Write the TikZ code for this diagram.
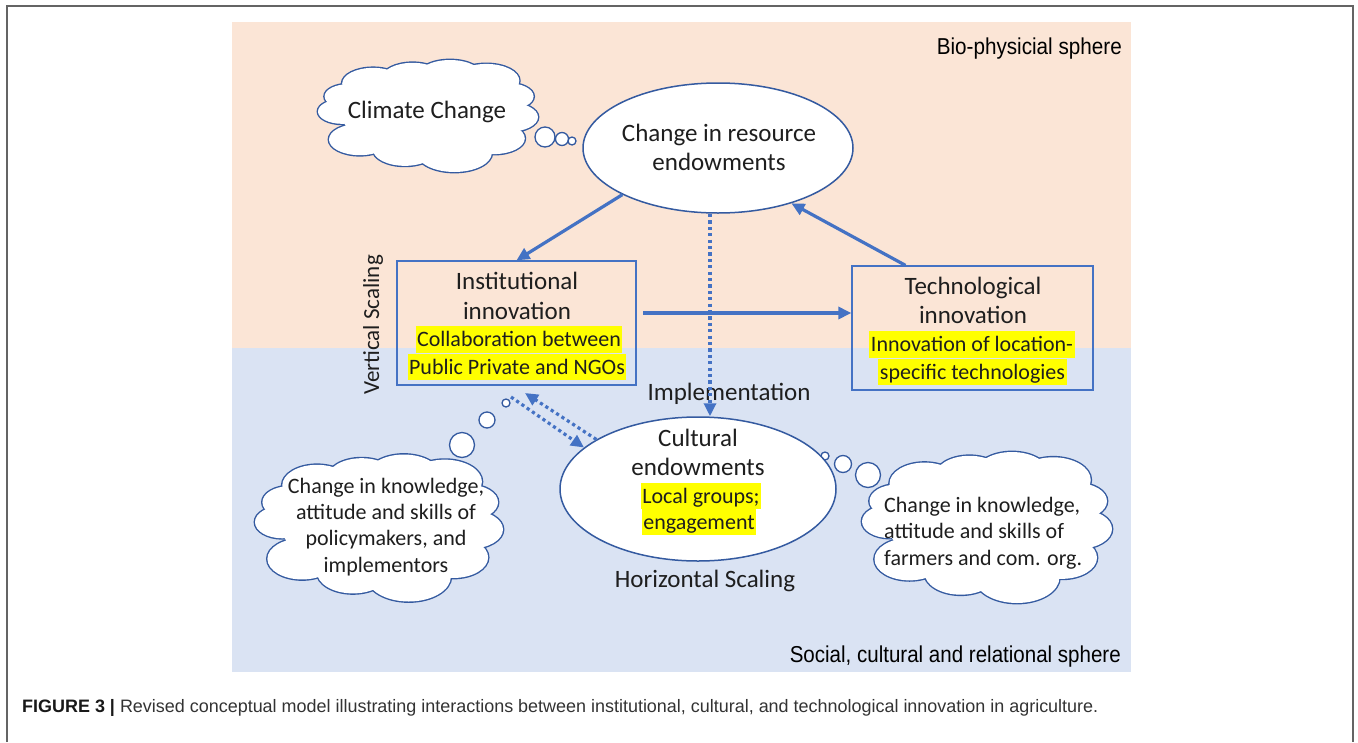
\documentclass[tikz,border=0pt]{standalone}
\usepackage{fontspec}
\setmainfont{Carlito}
\newfontfamily\arialf{Liberation Sans}
\usetikzlibrary{shapes.geometric,arrows.meta,calc}
\definecolor{peach}{RGB}{251,229,214}
\definecolor{lblue}{RGB}{218,227,243}
\definecolor{abl}{RGB}{68,114,196}
\definecolor{cbl}{RGB}{52,90,160}
\definecolor{hly}{RGB}{255,255,0}
\definecolor{txtc}{RGB}{30,30,30}
\definecolor{framec}{RGB}{100,100,100}
\tikzset{
  ttl/.style={font=\fontsize{25}{29}\selectfont, anchor=base, inner sep=0, text=txtc},
  hl/.style={font=\fontsize{22}{27}\selectfont, fill=hly, inner xsep=1.5pt, inner ysep=0pt, text height=20.5pt, text depth=6pt, anchor=base, text=txtc},
  ctx/.style={font=\fontsize{22}{26}\selectfont, anchor=base, inner sep=0, text=txtc},
  bub/.style={circle, draw=cbl, fill=white, line width=1.3pt, inner sep=0},
  ell/.style={ellipse, draw=cbl, fill=white, line width=1.5pt, inner sep=0},
  boxx/.style={rectangle, draw=abl, line width=1.3pt, inner sep=0},
  arr/.style={draw=abl, line width=3.2pt, -{Triangle[length=13pt,width=12pt]}},
  dots/.style={draw=abl, line width=3.2pt, dash pattern=on 3.2pt off 3.2pt, -{Triangle[length=13pt,width=12pt]}},
}
% puffs of a cloud, in units of its half width and half height (y up)
\newcommand{\puffs}{-0.72/0.35/0.22, -0.50/0.58/0.28, -0.14/0.67/0.28, 0.20/0.70/0.30, 0.53/0.63/0.30, 0.72/0.35/0.24, 0.74/-0.02/0.26, 0.60/-0.40/0.28, 0.24/-0.66/0.34, -0.21/-0.60/0.29, -0.62/-0.42/0.28, -0.78/0.08/0.22}
\newcommand{\officecloud}[4]{%
  \begin{scope}[shift={(#1,#2)}, x=#3pt, y=#4pt]
    \foreach \px/\py/\pr in \puffs {\draw[cbl, line width=2.8pt] (\px,\py) circle[radius=\pr];}
    \foreach \px/\py/\pr in \puffs {\fill[white] (\px,\py) circle[radius=\pr];}
    \fill[white] (0,0) ellipse[x radius=0.78, y radius=0.62];
  \end{scope}}
\begin{document}
\begin{tikzpicture}[x=1pt,y=-1pt]
\useasboundingbox (0,0) rectangle (1358,742);
% spheres
\fill[peach] (232,22) rectangle (1131,348);
\fill[lblue] (232,348) rectangle (1131,672);
\draw[framec, line width=1.3pt] (7,742) -- (7,6) -- (1353,6) -- (1353,742);
\node[anchor=base east, inner sep=0, font=\arialf\fontsize{23}{25}\selectfont] (bio) at (1122,54) {\resizebox{185pt}{\height}{Bio-physicial sphere}};
\node[anchor=base east, inner sep=0, font=\arialf\fontsize{23}{25}\selectfont] (soc) at (1121,662) {\resizebox{331pt}{\height}{Social, cultural and relational sphere}};
% climate cloud
\officecloud{428}{116}{110}{56}
\node[ttl] (cct) at (427,118) {Climate Change};
\node[bub, minimum size=20pt] (cb1) at (545,137) {};
\node[bub, minimum size=13pt] (cb2) at (562,139) {};
\node[bub, minimum size=8pt] (cb3) at (572,141) {};
% resource ellipse
\node[ell, minimum width=270pt, minimum height=130pt] (chg) at (718,148) {};
\node[ttl] (chgt1) at (719,141) {Change in resource};
\node[ttl] (chgt2) at (719,170) {endowments};
% institutional box
\node[boxx, minimum width=239pt, minimum height=124pt] (inst) at (516.5,323) {};
\node[ttl] (instt1) at (517,289) {Institutional};
\node[ttl] (instt2) at (517,319) {innovation};
\node[hl] (insth1) at (519,346.5) {Collaboration between};
\node[hl] (insth2) at (517,374) {Public Private and NGOs};
% technological box
\node[boxx, minimum width=241pt, minimum height=124pt] (tech) at (972.5,328) {};
\node[ttl] (techt1) at (973,294) {Technological};
\node[ttl] (techt2) at (973,323) {innovation};
\node[hl] (techh1) at (972,351.5) {Innovation of location-};
\node[hl] (techh2) at (972.5,379) {specific technologies};
% vertical scaling
\node[rotate=90, font=\fontsize{23}{26}\selectfont, inner sep=0, text=txtc] (vs) at (373,325) {Vertical Scaling};
% left cloud
\officecloud{379}{528}{124}{73.5}
\node[bub, minimum size=25pt] (lb1) at (462,445) {};
\node[bub, minimum size=16pt] (lb2) at (487,420) {};
\node[bub, minimum size=8pt] (lb3) at (506,403) {};
\node[ctx] (lct1) at (386,493) {Change in knowledge,};
\node[ctx] (lct2) at (386,519) {attitude and skills of};
\node[ctx] (lct3) at (386,545) {policymakers, and};
\node[ctx] (lct4) at (386,572) {implementors};
% right cloud
\officecloud{987}{527.5}{125}{75.5}
\node[bub, minimum size=25pt] (rb1) at (868,475) {};
\node[bub, minimum size=17pt] (rb2) at (843,464) {};
\node[bub, minimum size=8pt] (rb3) at (825,456) {};
\node[ctx, anchor=base west] (rct1) at (884,512) {Change in knowledge,};
\node[ctx, anchor=base west] (rct2) at (884,538) {attitude and skills of};
\node[ctx, anchor=base west] (rct3) at (884,565) {farmers and com. org.};
% cultural ellipse
\node[ell, minimum width=276pt, minimum height=144pt] (cult) at (698,489) {};
\node[ttl] (cultt1) at (698,446) {Cultural};
\node[ttl] (cultt2) at (698,475) {endowments};
\node[hl] (culth1) at (701,503) {Local groups;};
\node[hl] (culth2) at (699,529) {engagement};
\node[ttl] (impl) at (729,400) {Implementation};
\node[ttl] (hor) at (705,587) {Horizontal Scaling};
% connectors
\draw[arr] (chg.206) -- (inst.north);
\draw[arr] ($(tech.north)+(-67,0)$) -- (chg.-37);
\coordinate (a3s) at (643,313);
\draw[arr] (a3s) -- (tech.west |- a3s);
\coordinate (dvs) at (710,214);
\draw[dots] (dvs) -- (dvs |- cult.north);
\coordinate (d1e) at (525,393);
\draw[dots] (cult.154) -- (d1e);
\coordinate (d2s) at (511,397);
\draw[dots] (d2s) -- (cult.160);
% caption
\node[anchor=base west, inner sep=0, font=\arialf\fontsize{18}{20}\selectfont, text=black!80] (cap) at (22,712) {\resizebox{1076pt}{\height}{{\color{black!90}\textbf{FIGURE 3 |}} Revised conceptual model illustrating interactions between institutional, cultural, and technological innovation in agriculture.}};
\end{tikzpicture}
\end{document}
